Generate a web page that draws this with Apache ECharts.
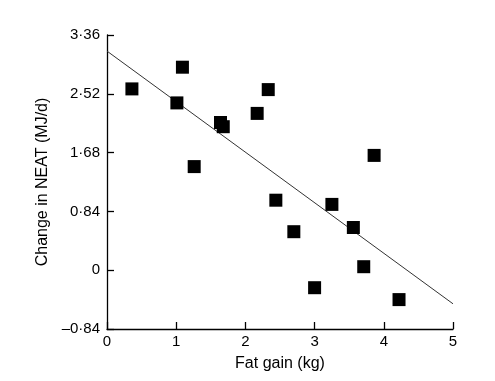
<!DOCTYPE html>
<html><head><meta charset="utf-8">
<script src="https://cdn.jsdelivr.net/npm/echarts@6/dist/echarts.min.js"></script>
<style>html,body{margin:0;padding:0;background:#fff}#c{width:495px;height:381px}</style>
</head><body><div id="c"></div>
<script>
const fatGain = [0.36, 1.09, 1.01, 1.26, 1.64, 1.68, 2.33, 2.17, 3.86, 2.44, 3.25, 2.70, 3.56, 3.71, 3.00, 4.22];
const neatChange = [2.59, 2.90, 2.39, 1.48, 2.11, 2.05, 2.58, 2.24, 1.64, 1.00, 0.94, 0.55, 0.61, 0.05, -0.25, -0.42];
const regX = [0, 5];
const regY = [3.13, -0.48];
const xTicks = [0, 1, 2, 3, 4, 5];
const yTicks = ['–0·84', '0', '0·84', '1·68', '2·52', '3·36'];

const font = 'Liberation Sans, Arial, sans-serif';
const chart = echarts.init(document.getElementById('c'), null, {renderer: 'canvas'});
const fmtY = v => {
  const idx = Math.round((v + 0.84) / 0.84);
  return yTicks[idx] !== undefined ? yTicks[idx] : '';
};
chart.setOption({
  animation: false,
  backgroundColor: '#fff',
  grid: {left: 107, right: 42, top: 35, bottom: 52, containLabel: false},
  xAxis: {
    type: 'value', min: xTicks[0], max: xTicks[xTicks.length - 1], interval: 1,
    name: 'Fat gain (kg)', nameLocation: 'middle', nameGap: 27,
    nameTextStyle: {fontFamily: font, fontSize: 16, color: '#000'},
    axisLine: {onZero: false, lineStyle: {color: '#000', width: 1.3}},
    axisTick: {inside: true, length: 7, lineStyle: {color: '#000', width: 1.3}},
    axisLabel: {fontFamily: font, fontSize: 15, color: '#000', margin: 5},
    splitLine: {show: false}
  },
  yAxis: {
    type: 'value', min: -0.84, max: 3.36, interval: 0.84,
    name: 'Change in NEAT (MJ/d)', nameLocation: 'middle', nameGap: 52,
    nameTextStyle: {fontFamily: font, fontSize: 16, color: '#000'},
    axisLine: {onZero: false, lineStyle: {color: '#000', width: 1.3}},
    axisTick: {inside: true, length: 7, lineStyle: {color: '#000', width: 1.3}},
    axisLabel: {fontFamily: font, fontSize: 15, color: '#000', margin: 7, formatter: fmtY},
    splitLine: {show: false}
  },
  series: [
    {
      type: 'line', data: regX.map((x, i) => [x, regY[i]]),
      showSymbol: false, symbol: 'none',
      lineStyle: {color: '#333', width: 1}, z: 1
    },
    {
      type: 'scatter', data: fatGain.map((x, i) => [x, neatChange[i]]),
      symbol: 'rect', symbolSize: 13,
      itemStyle: {color: '#000', opacity: 1}, z: 2
    }
  ]
});
</script></body></html>
